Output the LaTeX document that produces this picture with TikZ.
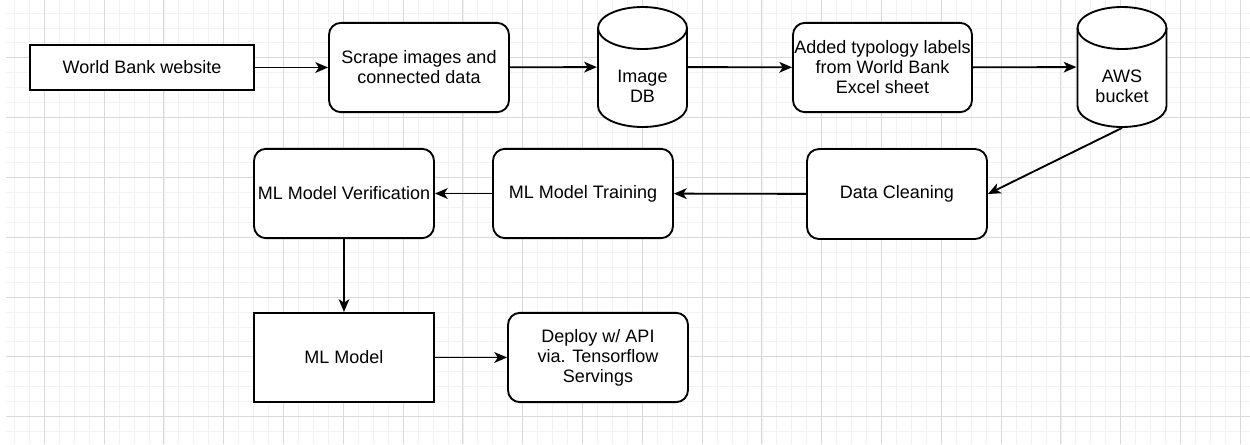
\documentclass[tikz,border=0pt]{standalone}
\usepackage{fontspec}
\setmainfont{Liberation Sans}
\usetikzlibrary{positioning,arrows.meta}

\begin{document}
\begin{tikzpicture}[x=0.75pt,y=-0.75pt,line width=1.4pt,
    every node/.style={font=\fontsize{13.5pt}{15pt}\selectfont,align=center,inner sep=1pt},
    box/.style={draw,fill=white,minimum width=135pt,minimum height=67pt},
    roundbox/.style={box,rounded corners=9pt},
    dbnode/.style={minimum width=67pt,minimum height=90pt},
    cyl/.style={draw,fill=white},
    flow/.style={-{Stealth[length=9.5pt,width=8pt,inset=2.5pt]}},
    gridminor/.style={line width=0.6pt,black!5},
    gridmajor/.style={line width=0.7pt,black!15}]
      \useasboundingbox (0,0) rectangle (1250,444);
      % Background grid
      \foreach \i in {-2,...,80} \draw[gridminor] ({44.3+\i*14.95},0) -- ++(0,444);
      \foreach \j in {-3,...,25} \draw[gridminor] (6,{57.8+\j*14.95}) -- (1250,{57.8+\j*14.95});
      \foreach \i in {0,...,20} \draw[gridmajor] ({44.3+\i*59.8},0) -- ++(0,444);
      \foreach \j in {0,...,6} \draw[gridmajor] (6,{57.8+\j*59.8}) -- (1250,{57.8+\j*59.8});
      % Databases (rx=44.5, ry=21)
      \foreach \cx in {642.5,1122} {
        \draw[cyl] ({\cx-44.5},28) -- ({\cx-44.5},106)
          .. controls ({\cx-44.5},117.6) and ({\cx-24.6},127) .. (\cx,127)
          .. controls ({\cx+24.6},127) and ({\cx+44.5},117.6) .. ({\cx+44.5},106)
          -- ({\cx+44.5},28)
          .. controls ({\cx+44.5},16.4) and ({\cx+24.6},7) .. (\cx,7)
          .. controls ({\cx-24.6},7) and ({\cx-44.5},16.4) .. ({\cx-44.5},28) -- cycle;
        \draw ({\cx-44.5},28)
          .. controls ({\cx-44.5},39.6) and ({\cx-24.6},49) .. (\cx,49)
          .. controls ({\cx+24.6},49) and ({\cx+44.5},39.6) .. ({\cx+44.5},28);
      }
      \node[dbnode] (imgdb) at (642.5,67) {};
      \node[dbnode] (aws) at (1122,67) {};
      \node (imgdbtxt) at (642.5,86) {Image\\DB};
      \node (awstxt) at (1122,86) {AWS\\bucket};
      % Process steps
      \node[box,minimum width=168pt,minimum height=33.75pt] (web) at (142,67.5) {World Bank website};
      \node[roundbox] (scrape) at (419,67.5) {Scrape images and\\connected data};
      \node[roundbox,minimum width=134.25pt] (labels) at (882.5,67.5) {Added typology labels\\from World Bank\\Excel sheet};
      \node[roundbox,minimum height=67.5pt] (clean) at (897,194) {Data Cleaning};
      \node[roundbox] (train) at (583,193.5) {ML Model Training};
      \node[roundbox] (verify) at (344,193.5) {ML Model Verification};
      \node[box] (model) at (344,357.5) {ML Model};
      \node[roundbox] (deploy) at (598,357.5) {Deploy w/ API\\via. Tensorflow\\Servings};
      % Flow
      \draw[flow] (web) -- (scrape);
      \draw[flow] (scrape) -- (imgdb);
      \draw[flow] (imgdb) -- (labels);
      \draw[flow] (labels) -- (aws);
      \draw[flow] (aws.south) -- (clean.east);
      \draw[flow] (clean) -- (train);
      \draw[flow] (train) -- (verify);
      \draw[flow] (verify) -- (model);
      \draw[flow] (model) -- (deploy);
\end{tikzpicture}
\end{document}
